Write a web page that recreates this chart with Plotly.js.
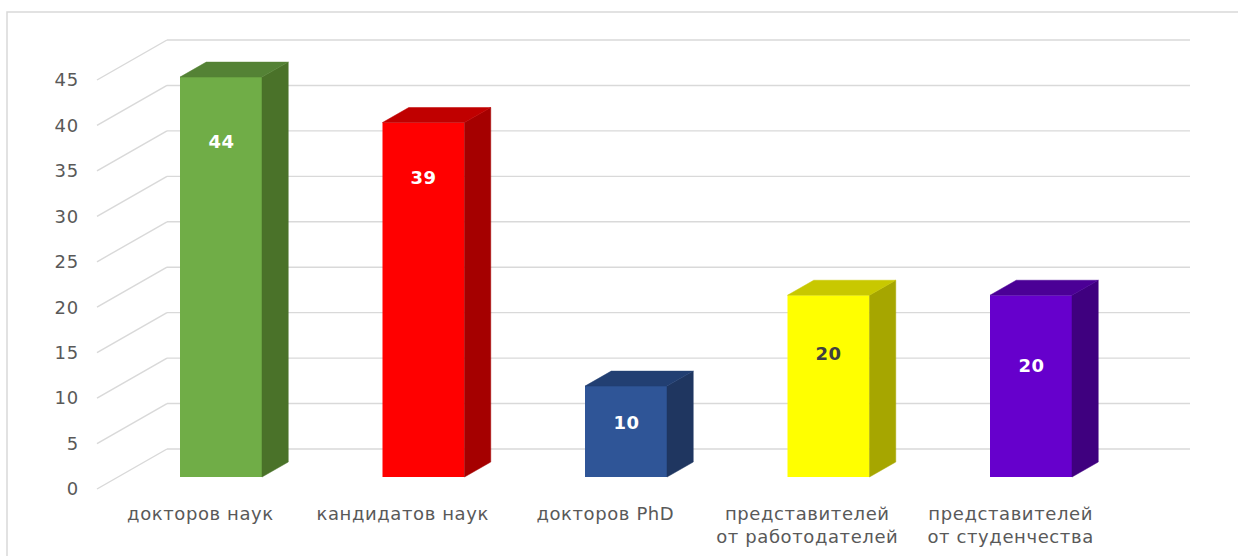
<!DOCTYPE html>
<html>
<head>
<meta charset="utf-8">
<script src="https://cdn.plot.ly/plotly-3.0.1.min.js"></script>
<style>
  html, body { margin: 0; padding: 0; background: #ffffff; }
  #chart { width: 1238px; height: 556px; }
  #chart .annotation-text { letter-spacing: 0.6px; }
  #chart .ytick text { letter-spacing: 0.8px; }
</style>
</head>
<body>
<div id="chart"></div>
<script>
// ---- data ----
const categories = [
  'докторов наук',
  'кандидатов наук',
  'докторов PhD',
  'представителей<br>от работодателей',
  'представителей<br>от студенчества'
];
const values = [44, 39, 10, 20, 20];
const yTickValues = [0, 5, 10, 15, 20, 25, 30, 35, 40, 45];

// ---- style ----
const frontColors = ['#70AD47', '#FF0000', '#2F5597', '#FFFF00', '#6600CC'];
const sideColors  = ['#4A7229', '#A50000', '#1F3660', '#A6A600', '#3F007F'];
const topColors   = ['#548235', '#C00000', '#223F72', '#C8C800', '#4B0096'];
const labelColors = ['#FFFFFF', '#FFFFFF', '#FFFFFF', '#404040', '#FFFFFF'];
const labelShift  = [-64, -55, -36, -58, -70];   // px below bar top
const gridColor = '#D9D9D9';
const textColor = '#595959';
const FONT = 'DejaVu Sans, Verdana, sans-serif';

// geometry of the pseudo-3D projection (in axis units)
const PX_X = 202.5;          // px per category
const PX_Y = 409 / 45;       // px per value unit
const DX = 70 / PX_X;        // full depth offset in x units
const DY = 40 / PX_Y;        // full depth offset in y units
const d0 = 0.3, d1 = 0.675;  // bar front/back depth
const barW = 82 / PX_X;
const wallL = (97 - 200) / PX_X, wallR = (1120 - 200) / PX_X;

const L = 80, R = 0, T = 35, B = 21;
const W = 1238, H = 556;
const plotW = W - L - R, plotH = H - T - B;
const xRange = [(L - 200) / PX_X, (L - 200) / PX_X + plotW / PX_X];
const yTop = (489 - T) / PX_Y;
const yRange = [yTop - plotH / PX_Y, yTop];

const traces = [];
// front faces
traces.push({
  type: 'bar',
  x: values.map((v, i) => i + d0 * DX),
  y: values,
  base: d0 * DY,
  width: barW,
  marker: { color: frontColors, line: { width: 0 } },
  hoverinfo: 'skip',
  showlegend: false
});
// side and top faces
values.forEach((v, i) => {
  const xl = i + d0 * DX - barW / 2;
  const xr = i + d0 * DX + barW / 2;
  const ddx = (d1 - d0) * DX, ddy = (d1 - d0) * DY;
  const yb = d0 * DY, yt = v + d0 * DY;
  traces.push({
    type: 'scatter', mode: 'lines',
    x: [xr, xr + ddx, xr + ddx, xr, xr],
    y: [yb, yb + ddy, yt + ddy, yt, yb],
    fill: 'toself', fillcolor: sideColors[i],
    line: { width: 0.5, color: sideColors[i] },
    hoverinfo: 'skip', showlegend: false
  });
  traces.push({
    type: 'scatter', mode: 'lines',
    x: [xl, xr, xr + ddx, xl + ddx, xl],
    y: [yt, yt, yt + ddy, yt + ddy, yt],
    fill: 'toself', fillcolor: topColors[i],
    line: { width: 0.5, color: topColors[i] },
    hoverinfo: 'skip', showlegend: false
  });
});

// gridlines: back wall + side wall diagonals
const shapes = [];
yTickValues.forEach(v => {
  shapes.push({
    type: 'line', xref: 'x', yref: 'y', layer: 'below',
    x0: wallL + DX, y0: v + DY, x1: wallR + DX, y1: v + DY,
    line: { color: gridColor, width: 1.4 }
  });
  shapes.push({
    type: 'line', xref: 'x', yref: 'y', layer: 'below',
    x0: wallL, y0: v, x1: wallL + DX, y1: v + DY,
    line: { color: gridColor, width: 1.4 }
  });
});
// outer chart border
shapes.push({
  type: 'rect', xref: 'paper', yref: 'paper', layer: 'below',
  x0: (7 - L) / plotW, x1: (W + 20 - L) / plotW,
  y0: (T + plotH - (H + 20)) / plotH, y1: (T + plotH - 12) / plotH,
  line: { color: gridColor, width: 1.5 }, fillcolor: 'rgba(0,0,0,0)'
});

const annotations = [];
values.forEach((v, i) => {
  annotations.push({
    xref: 'x', yref: 'y', x: i + d0 * DX, y: v + d0 * DY,
    yshift: labelShift[i], yanchor: 'middle', xanchor: 'center',
    text: '<b>' + v + '</b>', showarrow: false,
    font: { family: FONT, size: 18, color: labelColors[i] }
  });
});
categories.forEach((c, i) => {
  annotations.push({
    xref: 'x', yref: 'y', x: i, y: 0,
    yshift: -12, yanchor: 'top', xanchor: 'center',
    text: c, showarrow: false,
    font: { family: FONT, size: 18, color: textColor }
  });
});

const layout = {
  width: W, height: H,
  margin: { l: L, r: R, t: T, b: B, pad: 0 },
  paper_bgcolor: '#ffffff', plot_bgcolor: 'rgba(0,0,0,0)',
  showlegend: false,
  barmode: 'overlay',
  xaxis: { range: xRange, showgrid: false, zeroline: false, showline: false,
           showticklabels: false, ticks: '', fixedrange: true },
  yaxis: { range: yRange, tickmode: 'array', tickvals: yTickValues,
           showgrid: false, zeroline: false, showline: false, ticks: '',
           tickfont: { family: FONT, size: 18, color: textColor },
           fixedrange: true },
  shapes: shapes,
  annotations: annotations
};

Plotly.newPlot('chart', traces, layout, { displayModeBar: false, staticPlot: true });
</script>
</body>
</html>
